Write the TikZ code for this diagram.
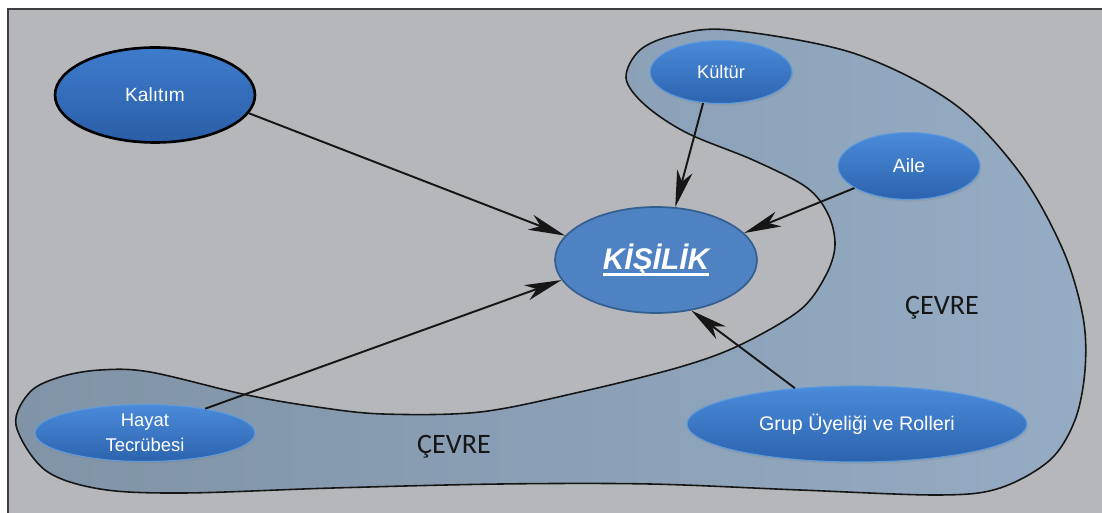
\documentclass[tikz,border=0pt]{standalone}
\usepackage{fontspec}
\setmainfont{Liberation Sans}
\newfontfamily\cevrefont{Carlito}
\usetikzlibrary{arrows.meta,shapes.geometric,shadows}

\definecolor{paper}{HTML}{B6B7BB}
\definecolor{frameline}{HTML}{3E3E40}
\definecolor{envleft}{HTML}{8093A7}
\definecolor{envright}{HTML}{95ACC4}
\definecolor{bubtop}{HTML}{4A8BDA}
\definecolor{bubbot}{HTML}{2C63AE}
\definecolor{bubedge}{HTML}{5F9BDC}
\definecolor{heretop}{HTML}{3E7CCC}
\definecolor{herebot}{HTML}{2A5EA7}
\definecolor{coreblue}{HTML}{4F82C2}
\definecolor{coreedge}{HTML}{34608F}
\definecolor{ink}{HTML}{161616}

% thick underline for the central label
\newcommand\coreul[1]{\setbox0\hbox{#1}\rlap{\rule[-3.6pt]{\wd0}{1.6pt}}\box0}

\tikzset{
  bubble/.style={ellipse, inner sep=0pt, top color=bubtop, bottom color=bubbot,
    draw=bubedge, line width=0.6pt, text=white, align=center,
    drop shadow={opacity=0.22, shadow xshift=0.6pt, shadow yshift=-1.2pt}},
  heredity/.style={ellipse, inner sep=0pt, top color=heretop, bottom color=herebot,
    draw=black, line width=1.5pt, text=white},
  core/.style={ellipse, inner sep=0pt, fill=coreblue, draw=coreedge, line width=1pt, text=white},
  influence/.style={draw=ink, line width=1.1pt,
    -{Stealth[length=21pt, width=9pt, inset=6pt]}},
  envlabel/.style={text=ink, font=\cevrefont\fontsize{16}{18}\selectfont}
}

\begin{document}
\begin{tikzpicture}[x=0.02cm, y=-0.02cm]
  % page and photo area
  \fill[white] (0,0) rectangle (1102,513);
  \useasboundingbox (0,0) rectangle (1102,513);
  \fill[paper] (8,9) rectangle (1102,513);
  \draw[frameline, line width=1.2pt] (8,513) -- (8,9) -- (1102,9);

  % the environment band
  \draw[ink, line width=0.9pt, left color=envleft, right color=envright]
    plot[smooth cycle, tension=0.55] coordinates {
      (730,30) (853,53) (953,103) (1020,173) (1063,250) (1083,317) (1085,370)
      (1075,420) (1050,460) (1000,488) (940,495) (800,490) (650,484) (500,484)
      (333,488) (183,493) (100,489) (45,470) (16,425) (30,392) (60,377) (100,370)
      (150,372) (247,395) (317,407) (383,414) (480,412) (580,392) (680,367)
      (740,345) (800,310) (826,275) (835,245) (828,214) (806,187) (753,160)
      (687,133) (645,105) (626,78) (640,50) (675,35)};

  \node[envlabel] (cevreA) at (942,308) {ÇEVRE};
  \node[envlabel] (cevreB) at (454,447) {ÇEVRE};

  % factors
  \node[heredity, minimum width=4.0cm, minimum height=1.9cm,
        font=\fontsize{10.9}{13}\selectfont] (kal) at (155,95) {Kalıtım};
  \node[bubble, minimum width=2.84cm, minimum height=1.26cm,
        font=\fontsize{10.4}{12}\selectfont] (kul) at (721,72) {Kültür};
  \node[bubble, minimum width=2.84cm, minimum height=1.34cm,
        font=\fontsize{11}{13}\selectfont] (aile) at (909,166) {Aile};
  \node[bubble, minimum width=4.4cm, minimum height=1.14cm,
        font=\fontsize{10.5}{14}\selectfont] (hayat) at (145,433) {Hayat\\Tecrübesi};
  \node[bubble, minimum width=6.8cm, minimum height=1.52cm,
        font=\fontsize{11.2}{13}\selectfont] (grup) at (857,424) {Grup Üyeliği ve Rolleri};

  % personality
  \node[core, minimum width=4.04cm, minimum height=2.12cm,
        font=\bfseries\itshape\fontsize{17}{19}\selectfont] (kis) at (656,260)
        {\coreul{KİŞİLİK}};

  % influences
  \draw[influence] (kal.-11)   -- (kis.165);
  \draw[influence] (kul.-120)  -- (kis.70);
  \draw[influence] (aile.202)  -- (kis.17);
  \draw[influence] (hayat.22)  -- (kis.192);
  \draw[influence] (grup.150)  -- (kis.-55);
\end{tikzpicture}
\end{document}
